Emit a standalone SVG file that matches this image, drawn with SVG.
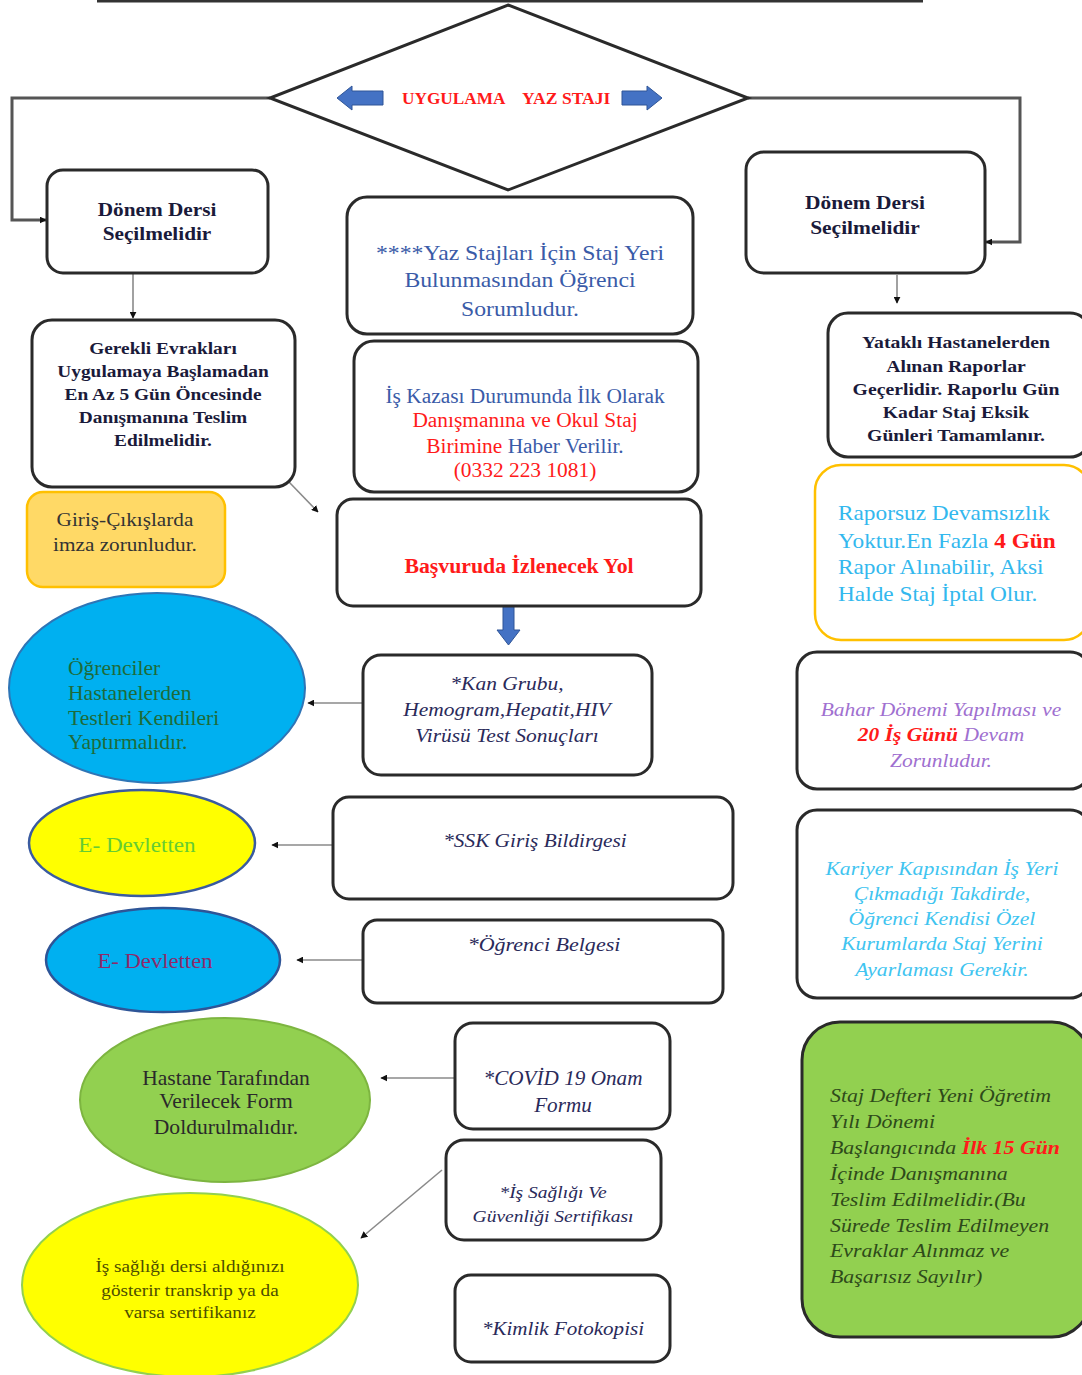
<svg xmlns="http://www.w3.org/2000/svg" width="1082" height="1375" viewBox="0 0 1082 1375">
<defs>
<style>
.box{fill:#fff;stroke:#2a2a2a;stroke-width:3}
.t{font-family:"Liberation Serif","Times New Roman",serif}
.c{text-anchor:middle}
.b{font-weight:bold}
.i{font-style:italic}
.con{fill:none;stroke:#8a8a8a;stroke-width:1.6}
.conk{fill:none;stroke:#555;stroke-width:3}
.red{fill:#FF1A1A}
.blue{fill:#3A5BA8}
</style>
<marker id="ah" viewBox="0 0 10 10" refX="9" refY="5" markerWidth="7" markerHeight="7" orient="auto" markerUnits="userSpaceOnUse">
<path d="M0,0 L10,5 L0,10 z" fill="#111"/>
</marker>
<marker id="ahb" viewBox="0 0 10 10" refX="9" refY="5" markerWidth="8" markerHeight="8" orient="auto" markerUnits="userSpaceOnUse">
<path d="M0,0 L10,5 L0,10 z" fill="#7090D0"/>
</marker>
</defs>
<rect width="1082" height="1375" fill="#fff"/>

<!-- connectors -->
<g id="connectors">
<line x1="97" y1="1" x2="923" y2="1" stroke="#333" stroke-width="3"/>
<line x1="508" y1="6" x2="508" y2="190" stroke="#9CB4E0" stroke-width="1.5" marker-end="url(#ahb)"/>
<polyline class="conk" points="270,98 12,98 12,220 46,220" marker-end="url(#ah)"/>
<polyline class="conk" points="748,98 1020,98 1020,242 986,242" marker-end="url(#ah)"/>
<line class="con" x1="133" y1="274" x2="133" y2="318" stroke="#444" marker-end="url(#ah)"/>
<line class="con" x1="897" y1="275" x2="897" y2="303" stroke="#444" marker-end="url(#ah)"/>
<line class="con" x1="289" y1="482" x2="318" y2="512" marker-end="url(#ah)"/>
<line class="con" x1="363" y1="703" x2="308" y2="703" marker-end="url(#ah)"/>
<line class="con" x1="333" y1="845" x2="272" y2="845" marker-end="url(#ah)"/>
<line class="con" x1="363" y1="960" x2="297" y2="960" marker-end="url(#ah)"/>
<line class="con" x1="455" y1="1078" x2="381" y2="1078" marker-end="url(#ah)"/>
<line class="con" x1="442" y1="1170" x2="361" y2="1238" marker-end="url(#ah)"/>
<path d="M503,606 L514,606 L514,630 L520,630 L508.5,645 L497,630 L503,630 z" fill="#4472C4" stroke="#2F5597" stroke-width="1"/>
</g>

<!-- diamond -->
<g id="decision">
<polygon points="508,5 748,98 508,190 270,98" fill="#fff" stroke="#2a2a2a" stroke-width="3"/>
<path d="M337,98 L352,86 L352,91 L383,91 L383,105 L352,105 L352,110 z" fill="#4472C4" stroke="#2F5597" stroke-width="1"/>
<path d="M662,98 L647,86 L647,91 L622,91 L622,105 L647,105 L647,110 z" fill="#4472C4" stroke="#2F5597" stroke-width="1"/>
<text class="t b red" x="402" y="104" font-size="16" transform="matrix(1.08,0,0,1,-32.16,0)">UYGULAMA</text>
<text class="t b red" x="522" y="104" font-size="16" transform="matrix(1.1,0,0,1,-52.2,0)">YAZ STAJI</text>
</g>

<g id="n-donem-left">
<rect class="box" x="47" y="170" width="221" height="103" rx="16"/>
<g class="t c b" font-size="19" fill="#1a1a3a" transform="matrix(1.12,0,0,1,-18.84,0)">
<text x="157" y="216">Dönem Dersi</text>
<text x="157" y="240">Seçilmelidir</text>
</g>
</g>

<g id="n-gerekli">
<rect class="box" x="32" y="320" width="263" height="167" rx="20"/>
<g class="t c b" font-size="17" fill="#1a1a3a" transform="matrix(1.14,0,0,1,-22.82,0)">
<text x="163" y="354">Gerekli Evrakları</text>
<text x="163" y="377">Uygulamaya Başlamadan</text>
<text x="163" y="400">En Az 5 Gün Öncesinde</text>
<text x="163" y="423">Danışmanına Teslim</text>
<text x="163" y="446">Edilmelidir.</text>
</g>
</g>

<g id="n-giris">
<rect x="27" y="492" width="198" height="95" rx="16" fill="#FFD966" stroke="#FFC000" stroke-width="2.5"/>
<g class="t c" font-size="18" fill="#333" transform="matrix(1.18,0,0,1,-22.5,0)">
<text x="125" y="526">Giriş-Çıkışlarda</text>
<text x="125" y="551">imza zorunludur.</text>
</g>
</g>

<g id="n-yazstaj">
<rect class="box" x="347" y="197" width="346" height="137" rx="20"/>
<g class="t c blue" font-size="21" transform="matrix(1.13,0,0,1,-67.6,0)">
<text x="520" y="260">****Yaz Stajları İçin Staj Yeri</text>
<text x="520" y="287">Bulunmasından Öğrenci</text>
<text x="520" y="316">Sorumludur.</text>
</g>
</g>

<g id="n-iskazasi">
<rect class="box" x="354" y="341" width="344" height="151" rx="20"/>
<g class="t c" font-size="20" transform="matrix(1.07,0,0,1,-36.75,0)">
<text class="blue" x="525" y="403">İş Kazası Durumunda İlk Olarak</text>
<text class="red" x="525" y="427">Danışmanına ve Okul Staj</text>
<text x="525" y="453"><tspan class="red">Birimine </tspan><tspan class="blue">Haber Verilir.</tspan></text>
<text class="red" x="525" y="477">(0332 223 1081)</text>
</g>
</g>

<g id="n-basvuru">
<rect class="box" x="337" y="499" width="364" height="107" rx="16"/>
<text class="t c b red" x="519" y="573" font-size="20" transform="matrix(1.09,0,0,1,-46.71,0)">Başvuruda İzlenecek Yol</text>
</g>

<g id="n-kan">
<rect class="box" x="363" y="655" width="289" height="120" rx="18"/>
<g class="t c i" font-size="19" fill="#2a2a5a" transform="matrix(1.13,0,0,1,-65.91,0)">
<text x="507" y="690">*Kan Grubu,</text>
<text x="507" y="716">Hemogram,Hepatit,HIV</text>
<text x="507" y="742">Virüsü Test Sonuçları</text>
</g>
</g>

<g id="n-ogrenciler">
<ellipse cx="157" cy="688" rx="148" ry="95" fill="#00B0F0" stroke="#2E75B6" stroke-width="2"/>
<g class="t" font-size="20" fill="#1E6B3A" transform="matrix(1.08,0,0,1,-5.44,0)">
<text x="68" y="675">Öğrenciler</text>
<text x="68" y="700">Hastanelerden</text>
<text x="68" y="725">Testleri Kendileri</text>
<text x="68" y="749">Yaptırmalıdır.</text>
</g>
</g>

<g id="n-ssk">
<rect class="box" x="333" y="797" width="400" height="102" rx="16"/>
<text class="t c i" x="535" y="847" font-size="19" fill="#2a2a5a" transform="matrix(1.12,0,0,1,-64.2,0)">*SSK Giriş Bildirgesi</text>
</g>

<g id="n-edevlet1">
<ellipse cx="142" cy="843" rx="113" ry="53" fill="#FFFF00" stroke="#3A5BA0" stroke-width="2.5"/>
<text class="t c" x="137" y="852" font-size="22" fill="#66CC33" transform="matrix(1.05,0,0,1,-6.85,0)">E- Devletten</text>
</g>

<g id="n-belge">
<rect class="box" x="363" y="920" width="360" height="83" rx="14"/>
<text class="t c i" x="544" y="951" font-size="19" fill="#2a2a5a" transform="matrix(1.16,0,0,1,-87.04,0)">*Öğrenci Belgesi</text>
</g>

<g id="n-edevlet2">
<ellipse cx="163" cy="960" rx="117" ry="52" fill="#00B0F0" stroke="#2E5597" stroke-width="2.5"/>
<text class="t c" x="155" y="968" font-size="22" fill="#8E2A6A" transform="matrix(1.03,0,0,1,-4.65,0)">E- Devletten</text>
</g>

<g id="n-covid">
<rect class="box" x="455" y="1023" width="215" height="106" rx="18"/>
<g class="t c i" font-size="20" fill="#2a2a5a" transform="matrix(1.06,0,0,1,-33.78,0)">
<text x="563" y="1085">*COVİD 19 Onam</text>
<text x="563" y="1112">Formu</text>
</g>
</g>

<g id="n-hastane">
<ellipse cx="225" cy="1100" rx="145" ry="82" fill="#92D050" stroke="#7DB540" stroke-width="2"/>
<g class="t c" font-size="20" fill="#2a2a2a" transform="matrix(1.08,0,0,1,-18.08,0)">
<text x="226" y="1085">Hastane Tarafından</text>
<text x="226" y="1108">Verilecek Form</text>
<text x="226" y="1134">Doldurulmalıdır.</text>
</g>
</g>

<g id="n-isg">
<rect class="box" x="446" y="1140" width="215" height="100" rx="18"/>
<g class="t c i" font-size="16" fill="#2a2a5a" transform="matrix(1.22,0,0,1,-121.66,0)">
<text x="553" y="1198">*İş Sağlığı Ve</text>
<text x="553" y="1222">Güvenliği Sertifikası</text>
</g>
</g>

<g id="n-issagligi">
<ellipse cx="190" cy="1285" rx="168" ry="92" fill="#FFFF00" stroke="#92D050" stroke-width="2"/>
<g class="t c" font-size="16" fill="#4D4D00" transform="matrix(1.2,0,0,1,-38,0)">
<text x="190" y="1272">İş sağlığı dersi aldığınızı</text>
<text x="190" y="1296">gösterir transkrip ya da</text>
<text x="190" y="1318">varsa sertifikanız</text>
</g>
</g>

<g id="n-kimlik">
<rect class="box" x="455" y="1275" width="215" height="87" rx="16"/>
<text class="t c i" x="563" y="1335" font-size="19" fill="#2a2a5a" transform="matrix(1.11,0,0,1,-61.93,0)">*Kimlik Fotokopisi</text>
</g>

<g id="n-donem-right">
<rect class="box" x="746" y="152" width="239" height="121" rx="18"/>
<g class="t c b" font-size="19" fill="#1a1a3a" transform="matrix(1.13,0,0,1,-112.45,0)">
<text x="865" y="209">Dönem Dersi</text>
<text x="865" y="234">Seçilmelidir</text>
</g>
</g>

<g id="n-yatakli">
<rect class="box" x="828" y="313" width="262" height="144" rx="20"/>
<g class="t c b" font-size="17" fill="#1a1a3a" transform="matrix(1.16,0,0,1,-152.96,0)">
<text x="956" y="348">Yataklı Hastanelerden</text>
<text x="956" y="372">Alınan Raporlar</text>
<text x="956" y="395">Geçerlidir. Raporlu Gün</text>
<text x="956" y="418">Kadar Staj Eksik</text>
<text x="956" y="441">Günleri Tamamlanır.</text>
</g>
</g>

<g id="n-raporsuz">
<rect x="815" y="465" width="275" height="175" rx="26" fill="#fff" stroke="#FFC000" stroke-width="2.5"/>
<g class="t" font-size="21" fill="#33B8EE" transform="matrix(1.11,0,0,1,-92.18,0)">
<text x="838" y="520">Raporsuz Devamsızlık</text>
<text x="838" y="548">Yoktur.En Fazla <tspan class="b red">4 Gün</tspan></text>
<text x="838" y="574">Rapor Alınabilir, Aksi</text>
<text x="838" y="601">Halde Staj İptal Olur.</text>
</g>
</g>

<g id="n-bahar">
<rect class="box" x="797" y="652" width="293" height="137" rx="20"/>
<g class="t c i" font-size="19" fill="#A070D0" transform="matrix(1.13,0,0,1,-122.33,0)">
<text x="941" y="716">Bahar Dönemi Yapılması ve</text>
<text x="941" y="741"><tspan class="b red">20 İş Günü</tspan> Devam</text>
<text x="941" y="767">Zorunludur.</text>
</g>
</g>

<g id="n-kariyer">
<rect class="box" x="797" y="810" width="293" height="188" rx="20"/>
<g class="t c i" font-size="19" fill="#40C4F0" transform="matrix(1.14,0,0,1,-131.88,0)">
<text x="942" y="875">Kariyer Kapısından İş Yeri</text>
<text x="942" y="900">Çıkmadığı Takdirde,</text>
<text x="942" y="925">Öğrenci Kendisi Özel</text>
<text x="942" y="950">Kurumlarda Staj Yerini</text>
<text x="942" y="976">Ayarlaması Gerekir.</text>
</g>
</g>

<g id="n-defter">
<rect x="802" y="1022" width="288" height="315" rx="38" fill="#92D050" stroke="#2a2a2a" stroke-width="3"/>
<g class="t i" font-size="19" fill="#2E4A1A" transform="matrix(1.15,0,0,1,-124.5,0)">
<text x="830" y="1102">Staj Defteri Yeni Öğretim</text>
<text x="830" y="1128">Yılı Dönemi</text>
<text x="830" y="1154">Başlangıcında <tspan class="b red">İlk 15 Gün</tspan></text>
<text x="830" y="1180">İçinde  Danışmanına</text>
<text x="830" y="1206">Teslim Edilmelidir.(Bu</text>
<text x="830" y="1232">Sürede Teslim Edilmeyen</text>
<text x="830" y="1257">Evraklar Alınmaz ve</text>
<text x="830" y="1283">Başarısız Sayılır)</text>
</g>
</g>
</svg>
